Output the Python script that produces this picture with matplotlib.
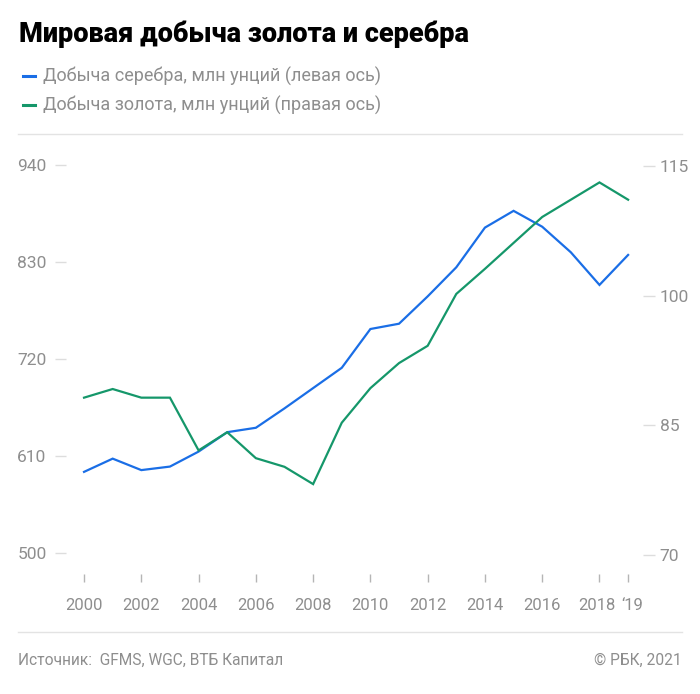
import matplotlib.pyplot as plt
import matplotlib.transforms as mtrans
import numpy as np

years = list(range(2000, 2020))
silver = [592, 607, 594, 598, 615, 637, 642, 664, 687, 710,
          754, 760, 791, 824, 869, 888, 870, 841, 804, 838]
gold = [88.2, 89.2, 88.2, 88.2, 82.1, 84.2, 81.2, 80.2, 78.2, 85.3,
        89.3, 92.2, 94.2, 100.2, 103.1, 106.1, 109.1, 111.1, 113.1, 111.1]

left_ticks = [500, 610, 720, 830, 940]
right_ticks = [70, 85, 100, 115]
x_ticks = [2000, 2002, 2004, 2006, 2008, 2010, 2012, 2014, 2016, 2018, 2019]
x_labels = ['2000', '2002', '2004', '2006', '2008', '2010', '2012', '2014', '2016', '2018', '\u201819']

title = 'Мировая добыча золота и серебра'
label_silver = 'Добыча серебра, млн унций (левая ось)'
label_gold = 'Добыча золота, млн унций (правая ось)'
source = 'Источник:  GFMS, WGC, ВТБ Капитал'
copyright_txt = '© РБК, 2021'

blue = '#1a6ee6'
green = '#15976a'
grey = '#8e8e8e'
tick_grey = '#dddddd'

plt.rcParams['font.family'] = ['Roboto', 'DejaVu Sans']

W, H = 700, 694
fig = plt.figure(figsize=(W / 100, H / 100), dpi=100)

# axes in pixel coords: left 66, right 643, top 150, bottom 560
ax = fig.add_axes([66 / W, 1 - 560 / H, (643 - 66) / W, (560 - 150) / H])
ax2 = ax.twinx()

ax.plot(years, silver, color=blue, lw=1.6, solid_joinstyle='miter')
ax2.plot(years, gold, color=green, lw=1.6, solid_joinstyle='miter')

ax.set_xlim(1999.37, 2019.52)
ax.set_ylim(492.06, 957.0)
ax2.set_ylim(69.42, 116.85)

for a in (ax, ax2):
    for s in a.spines.values():
        s.set_visible(False)
    a.patch.set_visible(False)

ax.set_yticks(left_ticks)
ax.set_yticklabels([str(t) for t in left_ticks])
ax.tick_params(axis='y', length=8, width=1, color=tick_grey, pad=6,
               labelcolor=grey, labelsize=12.5)
ax2.set_yticks(right_ticks)
ax2.set_yticklabels([str(t) for t in right_ticks])
ax2.tick_params(axis='y', length=8.5, width=1, color=tick_grey, pad=3.5,
                labelcolor=grey, labelsize=12.5)

ax.spines['bottom'].set_position(('outward', 10))
ax.set_xticks(x_ticks)
ax.set_xticklabels(x_labels)
ax.tick_params(axis='x', length=6, width=1, color='#b5b5b5', pad=11,
               labelcolor=grey, labelsize=12)
# pull the last two labels apart a little
xl = ax.get_xticklabels()
xl[-2].set_transform(xl[-2].get_transform() + mtrans.ScaledTranslation(-3 / 100, 0, fig.dpi_scale_trans))
xl[-1].set_transform(xl[-1].get_transform() + mtrans.ScaledTranslation(4 / 100, 0, fig.dpi_scale_trans))

# title and legend
fig.text(19 / W, 1 - 34 / H, title, fontsize=19.5, fontweight='black',
         color='black', va='center', ha='left')
for y, c, lab in [(76, blue, label_silver), (105, green, label_gold)]:
    fig.add_artist(plt.Line2D([23 / W, 35 / W], [1 - y / H, 1 - y / H],
                              color=c, lw=2.2))
    fig.text(43 / W, 1 - y / H, lab, fontsize=13,
             color=grey, va='center', ha='left')

# separators
for y in (134, 632):
    fig.add_artist(plt.Line2D([18 / W, 682 / W], [1 - y / H, 1 - y / H],
                              color='#e3e3e3', lw=1))

fig.text(18 / W, 1 - 660 / H, source, fontsize=11.2,
         color=grey, va='center', ha='left')
fig.text(682 / W, 1 - 660 / H, copyright_txt, fontsize=11.2,
         color=grey, va='center', ha='right')

fig.savefig('out.png', dpi=100)
